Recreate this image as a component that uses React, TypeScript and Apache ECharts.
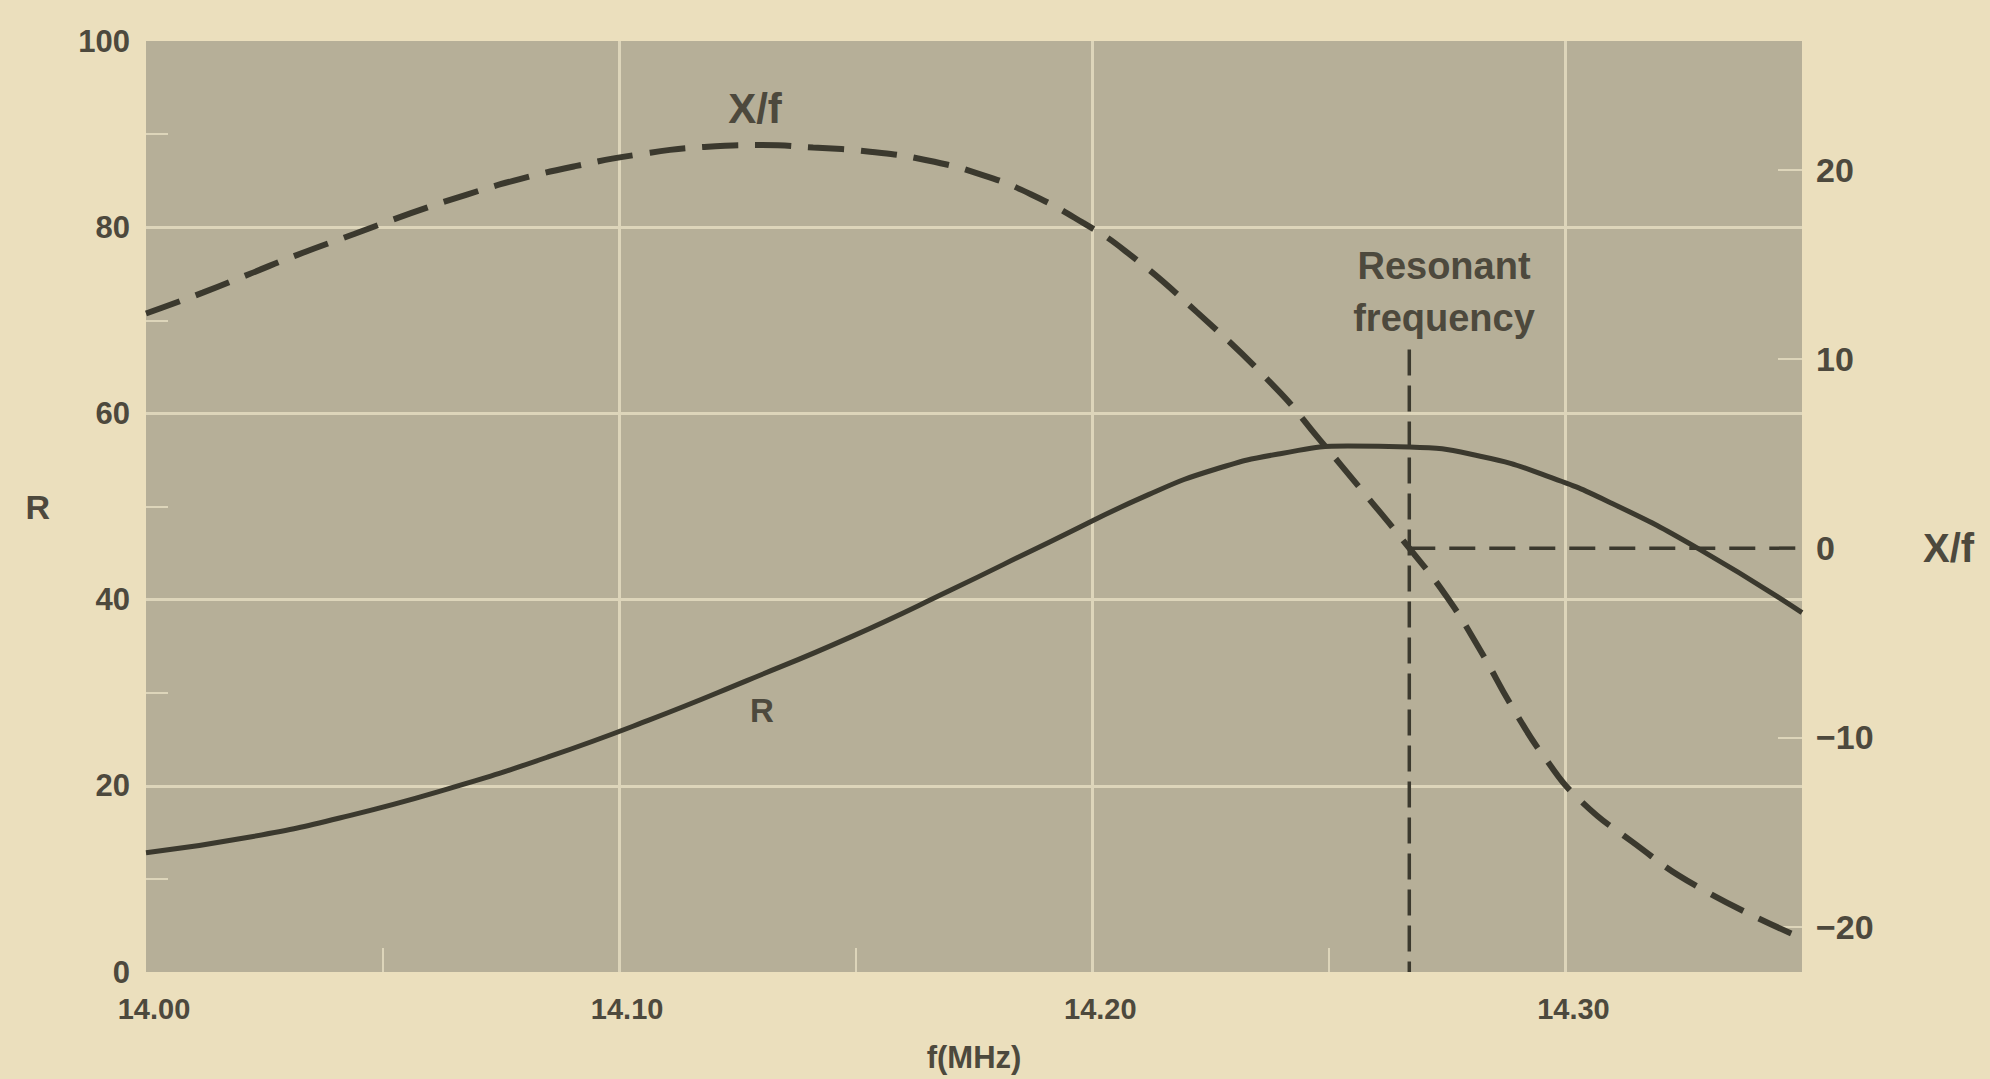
import React, { useEffect, useRef } from "react";
import * as echarts from "echarts";

// ---- data ----
const freqR = [14.0, 14.022, 14.043, 14.064, 14.085, 14.106, 14.127, 14.149, 14.17, 14.191, 14.212, 14.226, 14.24, 14.254, 14.267, 14.282, 14.296, 14.31, 14.328, 14.35];
const rValues = [12.8, 14.5, 16.8, 19.7, 23.1, 27.0, 31.3, 36.0, 41.0, 46.2, 51.3, 54.0, 55.7, 56.5, 56.4, 55.4, 53.3, 50.3, 45.5, 38.6];

const freqXf = [14.0, 14.012, 14.022, 14.032, 14.044, 14.056, 14.068, 14.079, 14.091, 14.104, 14.118, 14.13, 14.141, 14.153, 14.165, 14.177, 14.187, 14.198, 14.207, 14.222, 14.239, 14.248, 14.257, 14.267, 14.275, 14.282, 14.289, 14.296, 14.303, 14.314, 14.328, 14.349];
const xfValues = [12.4, 13.5, 14.5, 15.5, 16.6, 17.7, 18.7, 19.5, 20.2, 20.8, 21.2, 21.3, 21.17, 20.95, 20.5, 19.7, 18.7, 17.2, 15.7, 12.5, 8.4, 5.75, 3.05, 0.0, -2.6, -5.4, -8.5, -11.2, -13.3, -15.5, -17.9, -20.5];

const resonantFreq = 14.267;
const resonantLineTop = 10.5; // X/f units, where the vertical marker starts

const freqRange = [14.0, 14.35];
const freqStep = 0.1;
const rRange = [0, 100];
const rStep = 20;
const xfRange = [-22.4, 26.8];
const xfLabelValues = [-20, -10, 0, 10, 20];
const xfTickValues = [-20, -10, 10, 20];

// ---- styles ----
const PAGE_BG = "#ebdfbd";
const PLOT_BG = "#b6af98";
const GRID = "#ddd5ba";
const INK = "#3b392e";
const TEXT = "#4d493d";
const FONT = "'Liberation Sans', Arial, Helvetica, sans-serif";

const minus = (v: number) => (v < 0 ? "\u2212" + Math.abs(v) : String(v));

export default function App() {
  const ref = useRef<HTMLDivElement>(null);
  useEffect(() => {
    document.body.style.margin = "0";
    document.body.style.background = PAGE_BG;
    const chart = echarts.init(ref.current!, null, { renderer: "svg" });
    const labelStyle = { color: TEXT, fontFamily: FONT, fontWeight: "bold" as const };
    const annot = (text: string, x: number, y: number, size: number, extra: any = {}) => ({
      type: "text",
      x,
      y,
      style: {
        text,
        fill: TEXT,
        fontFamily: FONT,
        fontWeight: "bold",
        fontSize: size,
        align: "center",
        verticalAlign: "middle",
        textAlign: "center",
        textVerticalAlign: "middle",
        ...extra,
      },
    });
    const option: any = {
      animation: false,
      backgroundColor: PAGE_BG,
      grid: {
        left: 146,
        right: 188,
        top: 41,
        bottom: 107,
        show: true,
        backgroundColor: PLOT_BG,
        borderWidth: 0,
      },
      xAxis: {
        type: "value",
        min: freqRange[0],
        max: freqRange[1],
        interval: freqStep,
        name: "f(MHz)",
        nameLocation: "middle",
        nameGap: 70,
        nameTextStyle: { ...labelStyle, fontSize: 31 },
        axisLine: { show: false },
        axisTick: { show: false, inside: true },
        minorTick: { show: true, splitNumber: 2, length: 24, lineStyle: { color: GRID, width: 2 } },
        axisLabel: {
          ...labelStyle,
          fontSize: 29,
          margin: 22,
          padding: [0, 0, 0, 16],
          showMaxLabel: false,
          formatter: (v: number) => v.toFixed(2),
        },
        splitLine: { show: true, showMinLine: false, showMaxLine: false, lineStyle: { color: GRID, width: 3 } },
      },
      yAxis: [
        {
          type: "value",
          position: "left",
          min: rRange[0],
          max: rRange[1],
          interval: rStep,
          name: "R",
          nameLocation: "middle",
          nameRotate: 0,
          nameGap: 96,
          nameTextStyle: { ...labelStyle, fontSize: 34 },
          axisLine: { show: false },
          axisTick: { show: false, inside: true },
          minorTick: { show: true, splitNumber: 2, length: 22, lineStyle: { color: GRID, width: 2 } },
          axisLabel: { ...labelStyle, fontSize: 31, margin: 16 },
          splitLine: { show: true, showMinLine: false, showMaxLine: false, lineStyle: { color: GRID, width: 3 } },
        },
        {
          type: "value",
          position: "right",
          min: xfRange[0],
          max: xfRange[1],
          axisLine: { show: false },
          axisTick: {
            show: true,
            inside: true,
            length: 24,
            customValues: xfTickValues,
            lineStyle: { color: GRID, width: 2 },
          },
          axisLabel: { ...labelStyle, fontSize: 34, margin: 14, customValues: xfLabelValues, formatter: minus },
          splitLine: { show: false },
        },
      ],
      graphic: [
        annot("X/f", 755, 108, 42),
        annot("R", 762, 710, 33),
        annot("Resonant\nfrequency", 1444, 292, 38, { lineHeight: 52 }),
        annot("X/f", 1923, 548, 40, { align: "left", textAlign: "left" }),
      ],
      series: [
        {
          name: "R",
          type: "line",
          yAxisIndex: 0,
          data: freqR.map((f, i) => [f, rValues[i]]),
          smooth: 0.5,
          showSymbol: false,
          symbol: "none",
          lineStyle: { color: INK, width: 5 },
          z: 5,
        },
        {
          name: "X/f",
          type: "line",
          yAxisIndex: 1,
          data: freqXf.map((f, i) => [f, xfValues[i]]),
          smooth: 0.5,
          showSymbol: false,
          symbol: "none",
          lineStyle: { color: INK, width: 6, type: [36, 17] },
          z: 5,
        },
        {
          name: "resonance-v",
          type: "line",
          yAxisIndex: 1,
          data: [
            [resonantFreq, resonantLineTop],
            [resonantFreq, xfRange[0]],
          ],
          showSymbol: false,
          symbol: "none",
          lineStyle: { color: INK, width: 3.5, type: [26, 10] },
          z: 4,
        },
        {
          name: "resonance-h",
          type: "line",
          yAxisIndex: 1,
          data: [
            [resonantFreq, 0],
            [freqRange[1], 0],
          ],
          showSymbol: false,
          symbol: "none",
          lineStyle: { color: INK, width: 3.5, type: [26, 14] },
          z: 4,
        },
      ],
    };
    chart.setOption(option);
    return () => chart.dispose();
  }, []);
  return <div ref={ref} style={{ width: 1990, height: 1079, background: PAGE_BG }} />;
}
